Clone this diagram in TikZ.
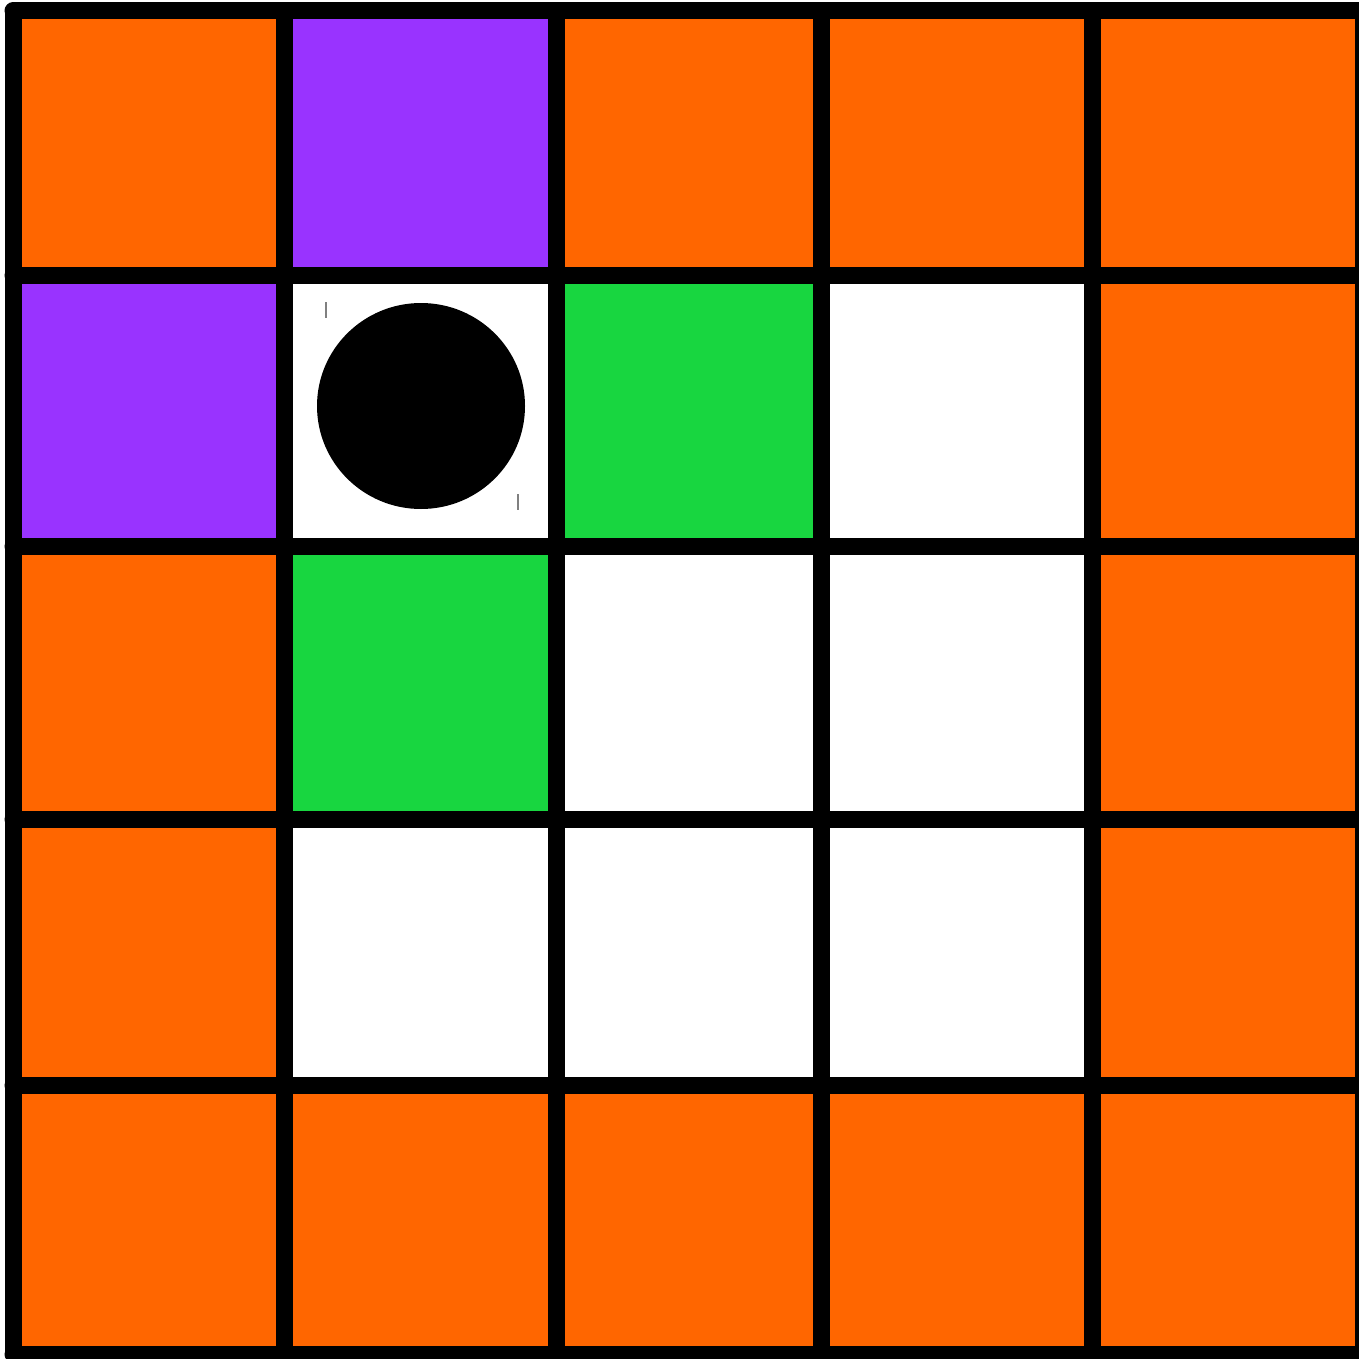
\documentclass[tikz,border=0pt]{standalone}
\definecolor{cOr}{HTML}{FF6600}
\definecolor{cPu}{HTML}{9933FF}
\definecolor{cGr}{HTML}{18D640}
\tikzset{gridline/.style={line width=17pt, line cap=round, line join=round, black},
  tick/.style={line width=1.5pt, gray}}
\begin{document}
\begin{tikzpicture}[x=1pt,y=-1pt]
\useasboundingbox (0,0) rectangle (1359,1359);
\clip (0,0) rectangle (1359,1359);
\def\xs{{13,284,556,821,1092,1363}}
\def\ys{{11,275,546,819,1085,1354}}
\foreach \r/\c/\col in {0/0/cOr,0/1/cPu,0/2/cOr,0/3/cOr,0/4/cOr,
  1/0/cPu,1/1/white,1/2/cGr,1/3/white,1/4/cOr,
  2/0/cOr,2/1/cGr,2/2/white,2/3/white,2/4/cOr,
  3/0/cOr,3/1/white,3/2/white,3/3/white,3/4/cOr,
  4/0/cOr,4/1/cOr,4/2/cOr,4/3/cOr,4/4/cOr}{
  \pgfmathsetmacro{\xa}{\xs[\c]}
  \pgfmathsetmacro{\xb}{\xs[\c+1]}
  \pgfmathsetmacro{\ya}{\ys[\r]}
  \pgfmathsetmacro{\yb}{\ys[\r+1]}
  \fill[\col] (\xa,\ya) rectangle (\xb,\yb);
}
\foreach \x in {13,284,556,821,1092,1363}{
  \draw[gridline] (\x,11) -- (\x,1354);
}
\foreach \y in {11,275,546,819,1085,1354}{
  \draw[gridline] (13,\y) -- (1363,\y);
}
\fill[black] (421,406) ellipse (104 and 103);
\draw[tick] (326,302) -- (326,318);
\draw[tick] (518,494) -- (518,510);
\end{tikzpicture}
\end{document}
